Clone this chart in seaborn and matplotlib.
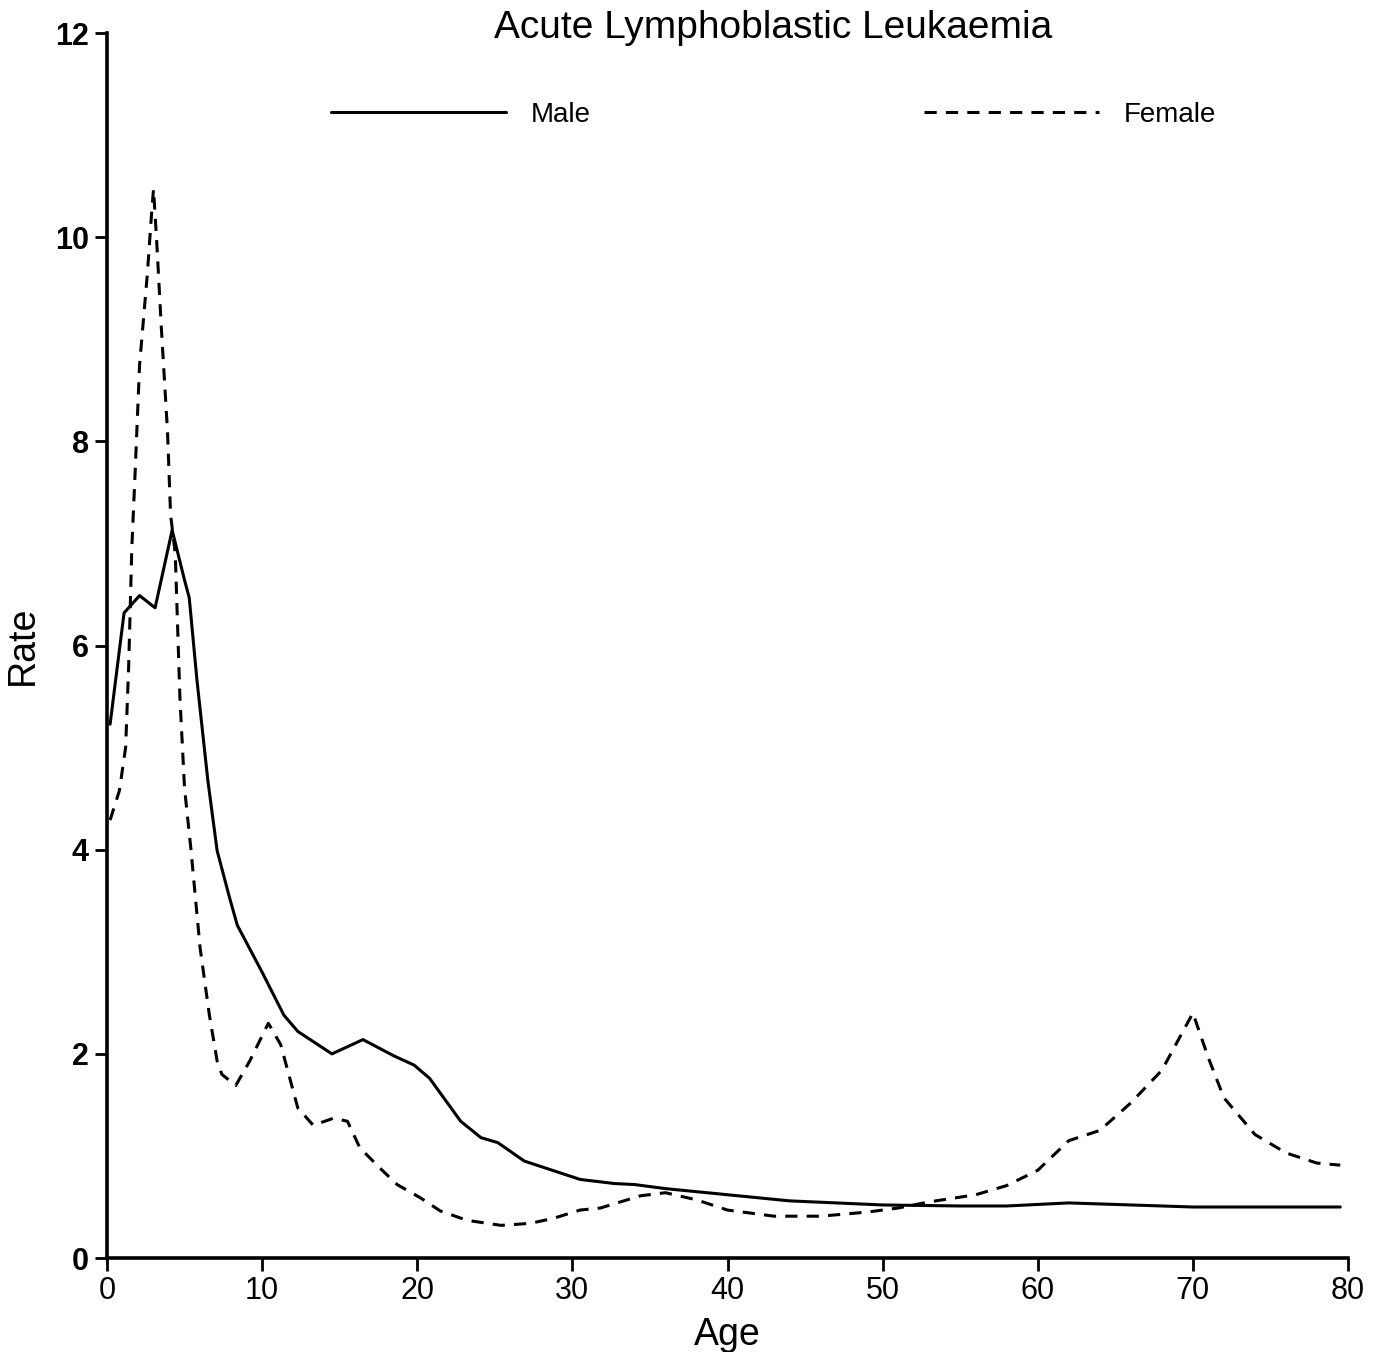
import matplotlib
matplotlib.use("Agg")
import matplotlib.pyplot as plt
import numpy as np
import pandas as pd
import seaborn as sns

sns.set_theme(style="white")
plt.rcParams["font.family"] = ["Liberation Sans", "DejaVu Sans"]
plt.rcParams["text.color"] = "black"
plt.rcParams["axes.labelcolor"] = "black"
plt.rcParams["xtick.color"] = "black"
plt.rcParams["ytick.color"] = "black"

# Data
male_age = [0.2, 1.1, 2.1, 3.1, 4.2, 5.0, 5.3, 5.8, 6.5, 7.1, 7.9, 8.4, 10.0, 11.4,
            12.3, 14.5, 16.5, 18.5, 19.8, 20.8, 22.8, 24.1, 25.2, 26.9, 27.9, 30.5,
            32.7, 34.0, 36.0, 40.0, 44.0, 50.0, 55.0, 58.0, 62.0, 66.0, 70.0, 75.0, 79.5]
male_rate = [5.23, 6.32, 6.49, 6.37, 7.13, 6.64, 6.47, 5.66, 4.68, 3.99, 3.53, 3.26, 2.80, 2.38,
             2.22, 2.00, 2.14, 1.98, 1.89, 1.76, 1.34, 1.18, 1.13, 0.95, 0.90, 0.77,
             0.73, 0.72, 0.68, 0.62, 0.56, 0.52, 0.51, 0.51, 0.54, 0.52, 0.50, 0.50, 0.50]

female_age = [0.2, 0.8, 1.2, 1.4, 1.6, 1.8, 2.1, 2.6, 2.9, 3.0, 3.2, 3.5, 3.9, 4.1, 4.4,
              4.7, 5.0, 5.4, 6.0, 6.6, 7.1, 7.4, 8.3, 9.2, 10.4, 11.2, 12.3, 13.3, 14.6,
              15.5, 16.3, 17.6, 18.7, 20.2, 21.5, 23.2, 25.4, 27.3, 28.8, 30.5, 31.8,
              34.4, 36.0, 38.0, 40.0, 43.0, 46.0, 49.0, 51.0, 53.0, 56.0, 58.0, 60.0,
              62.0, 64.0, 66.0, 68.0, 70.0, 71.0, 72.0, 74.0, 76.0, 78.0, 79.5]
female_rate = [4.29, 4.58, 5.00, 5.81, 6.96, 7.65, 8.75, 9.64, 10.29, 10.47, 9.97, 9.12, 8.10, 7.28, 6.90,
               5.49, 4.60, 4.02, 3.04, 2.38, 1.93, 1.80, 1.69, 1.93, 2.30, 2.09, 1.47, 1.30, 1.37,
               1.34, 1.08, 0.88, 0.72, 0.59, 0.46, 0.37, 0.32, 0.34, 0.39, 0.47, 0.49,
               0.61, 0.64, 0.57, 0.47, 0.41, 0.41, 0.45, 0.49, 0.55, 0.62, 0.71, 0.86,
               1.15, 1.25, 1.52, 1.84, 2.40, 1.96, 1.57, 1.21, 1.03, 0.93, 0.91]

df = pd.concat([
    pd.DataFrame({"Age": male_age, "Rate": male_rate, "Sex": "Male"}),
    pd.DataFrame({"Age": female_age, "Rate": female_rate, "Sex": "Female"}),
])

fig = plt.figure(figsize=(13.86, 13.52), dpi=100)
ax = fig.add_axes([0.0772, 0.0695, 0.8954, 0.906])

sns.lineplot(data=df, x="Age", y="Rate", style="Sex", estimator=None, sort=True,
             dashes={"Male": "", "Female": (4, 3)}, color="black", linewidth=2.2, ax=ax)

ax.set_xlim(0, 80)
ax.set_ylim(0, 12)
ax.set_xticks(np.arange(0, 81, 10))
ax.set_yticks(np.arange(0, 13, 2))
for side in ["top", "right"]:
    ax.spines[side].set_visible(False)
for side in ["left", "bottom"]:
    ax.spines[side].set_color("black")
    ax.spines[side].set_linewidth(2.6)
ax.tick_params(axis="both", direction="out", length=9, width=2, color="black",
               labelsize=22, pad=4, left=True, bottom=True)
for lbl in ax.get_yticklabels():
    lbl.set_fontweight("bold")

ax.set_xlabel("Age", fontsize=27, labelpad=8)
ax.set_ylabel("Rate", fontsize=27, labelpad=10)
fig.text(0.558, 0.979, "Acute Lymphoblastic Leukaemia", ha="center", va="center", fontsize=28)

ax.legend(ncol=2, frameon=False, loc="center left", bbox_to_anchor=(0.16, 0.933),
          handlelength=6.3, columnspacing=12.0, handletextpad=0.9, fontsize=20)

fig.savefig("out.png", dpi=100)
